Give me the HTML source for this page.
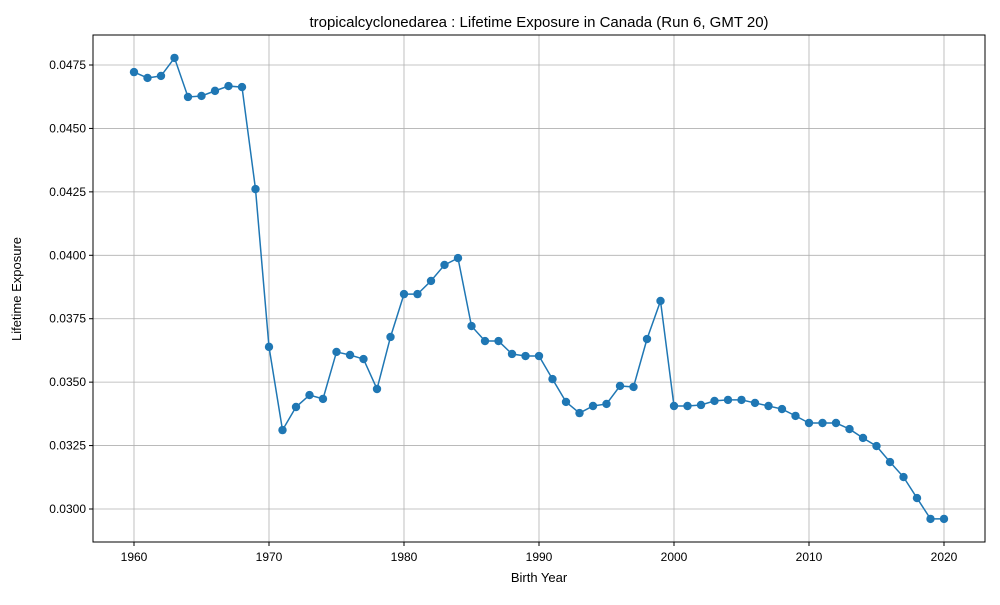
<!DOCTYPE html>
<html><head><meta charset="utf-8"><style>
html,body{margin:0;padding:0;background:#fff;}
svg text{font-family:"Liberation Sans","DejaVu Sans",sans-serif;fill:#000;}
</style></head><body>
<svg id="chart" width="1000" height="600" xmlns="http://www.w3.org/2000/svg">
<rect width="1000" height="600" fill="#fff"/>
<text x="539" y="27" font-size="15" text-anchor="middle">tropicalcyclonedarea : Lifetime Exposure in Canada (Run 6, GMT 20)</text>
<text x="539" y="582" font-size="13" text-anchor="middle">Birth Year</text>
<text x="21" y="289" font-size="13" text-anchor="middle" transform="rotate(-90 21 289)">Lifetime Exposure</text>
<g id="grid"></g><g id="ticks"></g><g id="series"></g>
<rect x="93" y="35" width="892" height="507" fill="none" stroke="#000" stroke-width="1"/>
</svg>
<script>
const years = [1960,1961,1962,1963,1964,1965,1966,1967,1968,1969,1970,1971,1972,1973,1974,1975,1976,1977,1978,1979,1980,1981,1982,1983,1984,1985,1986,1987,1988,1989,1990,1991,1992,1993,1994,1995,1996,1997,1998,1999,2000,2001,2002,2003,2004,2005,2006,2007,2008,2009,2010,2011,2012,2013,2014,2015,2016,2017,2018,2019,2020];
const exposure = [0.04722,0.04699,0.04707,0.04778,0.04624,0.04628,0.04648,0.04667,0.04663,0.04261,0.03639,0.03311,0.03402,0.03449,0.03434,0.03619,0.03607,0.03591,0.03473,0.03678,0.03847,0.03847,0.03899,0.03962,0.03989,0.03721,0.03662,0.03662,0.03611,0.03603,0.03603,0.03512,0.03422,0.03378,0.03406,0.03414,0.03485,0.03481,0.0367,0.0382,0.03406,0.03406,0.0341,0.03426,0.0343,0.0343,0.03418,0.03406,0.03394,0.03367,0.03339,0.03339,0.03339,0.03315,0.0328,0.03248,0.03185,0.03126,0.03043,0.02961,0.02961];
const xTicks = [1960,1970,1980,1990,2000,2010,2020];
const yTicks = [0.0300,0.0325,0.0350,0.0375,0.0400,0.0425,0.0450,0.0475];
const yLabels = ["0.0300","0.0325","0.0350","0.0375","0.0400","0.0425","0.0450","0.0475"];

const NS="http://www.w3.org/2000/svg";
function xS(v){return 134+(v-1960)*13.5;}
function yS(v){return 509-(v-0.03)*25371;}
function mk(t,a,p){const e=document.createElementNS(NS,t);for(const k in a)e.setAttribute(k,a[k]);p.appendChild(e);return e;}
const grid=document.getElementById('grid'),ticks=document.getElementById('ticks'),series=document.getElementById('series');
xTicks.forEach(t=>{const x=xS(t);
 const g=mk('line',{x1:x,x2:x,y1:35,y2:542,stroke:'#b0b0b0','stroke-width':0.8},grid);
 
 
 const tk=mk('line',{x1:x,x2:x,y1:542,y2:546,stroke:'#000'},ticks);
 
 
 const tx=mk('text',{x:x,y:561,'font-size':12,'text-anchor':'middle'},ticks);tx.textContent=t;
 
 
});
yTicks.forEach((t,i)=>{const y=yS(t);
 const g=mk('line',{x1:93,x2:985,y1:y,y2:y,stroke:'#b0b0b0','stroke-width':0.8},grid);
 
 
 const tk=mk('line',{x1:89,x2:93,y1:y,y2:y,stroke:'#000'},ticks);
 
 
 const tx=mk('text',{x:86,y:y+4,'font-size':12,'text-anchor':'end'},ticks);tx.textContent=yLabels[i];
 
 
});
const pts=years.map((yr,i)=>xS(yr)+','+yS(exposure[i])).join(' ');
const line=mk('polyline',{points:pts,fill:'none',stroke:'#1f77b4','stroke-width':1.5},series);


years.forEach((yr,i)=>{
 const c=mk('circle',{cx:xS(yr),cy:yS(exposure[i]),r:4.2,fill:'#1f77b4'},series);
 
 
});
</script>
</body></html>
